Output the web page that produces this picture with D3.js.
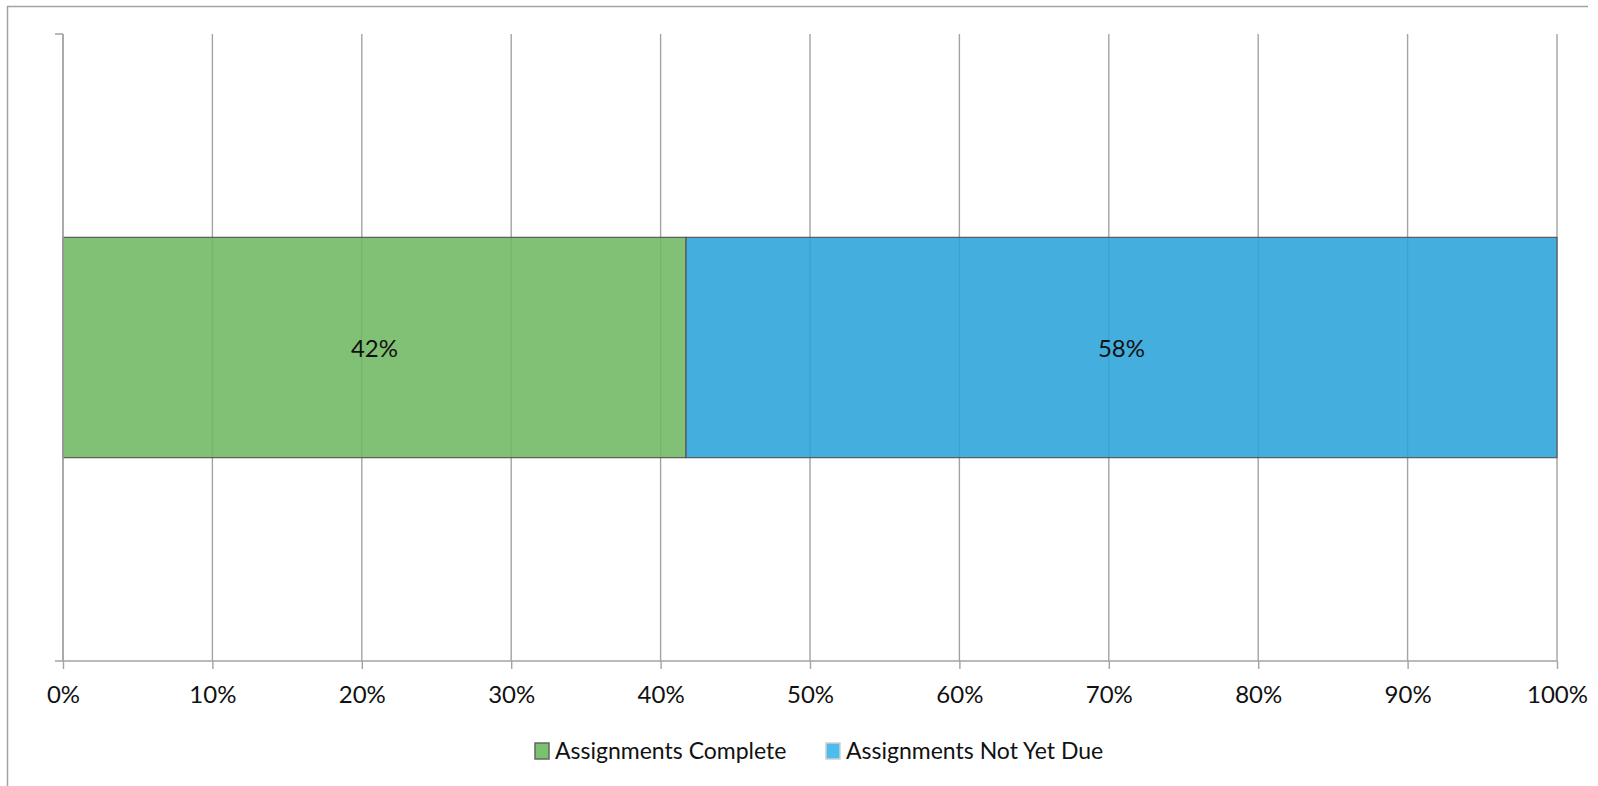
<!DOCTYPE html>
<html>
<head>
<meta charset="utf-8">
<script src="https://cdn.jsdelivr.net/npm/d3@7"></script>
<style>
  body { margin: 0; background: #fff; }
  svg text { font-family: Lato, "Open Sans", sans-serif; fill: #111; }
</style>
</head>
<body>
<div id="chart"></div>
<script>
// data
const categories = ["Assignments"];
const seriesNames = ["Assignments Complete", "Assignments Not Yet Due"];
const seriesValues = [41.7, 58.3];
const valueLabels = ["42%", "58%"];
const seriesColors = ["#6fb863", "#2aa4d9"];
const legendColors = ["#79c36f", "#4cbdec"];
const xTicks = [0, 10, 20, 30, 40, 50, 60, 70, 80, 90, 100];

const W = 1598, H = 786;
const plotLeft = 63, plotRight = 1557, plotTop = 34, plotBottom = 661;
const gridColor = "#a3a3a3";
const fontSize = 24;

const svg = d3.select("#chart")
  .append("svg")
  .attr("width", W)
  .attr("height", H);

// outer frame (only top + left edges visible)
svg.append("line")
  .attr("x1", 7).attr("x2", 1588).attr("y1", 6.5).attr("y2", 6.5)
  .attr("stroke", gridColor).attr("stroke-width", 1.5);
svg.append("line")
  .attr("x1", 7.5).attr("x2", 7.5).attr("y1", 6).attr("y2", H)
  .attr("stroke", gridColor).attr("stroke-width", 1.5);

const x = d3.scaleLinear().domain([0, 100]).range([plotLeft, plotRight]);
const y = d3.scaleBand().domain(categories).range([plotTop, plotBottom])
  .paddingInner(0.48).paddingOuter(0.48);

// vertical gridlines
svg.append("g")
  .selectAll("line")
  .data(xTicks)
  .enter()
  .append("line")
  .attr("x1", d => x(d)).attr("x2", d => x(d))
  .attr("y1", plotTop).attr("y2", plotBottom)
  .attr("stroke", gridColor)
  .attr("stroke-width", 1.4);

// stacked bars
let acc = 0;
const segs = seriesValues.map((v, i) => {
  const s = { start: acc, end: acc + v, label: valueLabels[i], color: seriesColors[i] };
  acc += v;
  return s;
});

const barG = svg.append("g");
categories.forEach(cat => {
  barG.selectAll("rect")
    .data(segs)
    .enter()
    .append("rect")
    .attr("x", d => x(d.start))
    .attr("y", y(cat))
    .attr("width", d => x(d.end) - x(d.start))
    .attr("height", y.bandwidth())
    .attr("fill", d => d.color)
    .attr("fill-opacity", 0.88)
    .attr("stroke", "#5a5a5a")
    .attr("stroke-width", 1.2);

  barG.selectAll("text")
    .data(segs)
    .enter()
    .append("text")
    .attr("x", d => (x(d.start) + x(d.end)) / 2)
    .attr("y", y(cat) + y.bandwidth() / 2 + 9)
    .attr("text-anchor", "middle")
    .attr("font-size", fontSize)
    .text(d => d.label);
});

// y axis line with end ticks
svg.append("line")
  .attr("x1", plotLeft).attr("x2", plotLeft).attr("y1", plotTop).attr("y2", plotBottom)
  .attr("stroke", gridColor).attr("stroke-width", 1.5);
svg.append("line")
  .attr("x1", plotLeft - 8).attr("x2", plotLeft).attr("y1", plotTop).attr("y2", plotTop)
  .attr("stroke", gridColor).attr("stroke-width", 1.5);

// x axis
const xAxis = svg.append("g")
  .attr("transform", `translate(0,${plotBottom})`)
  .call(d3.axisBottom(x).tickValues(xTicks).tickSize(8)
    .tickFormat(d => d + "%"));
xAxis.select(".domain").remove();
xAxis.selectAll(".tick line").attr("stroke", gridColor).attr("stroke-width", 1.4);
xAxis.selectAll(".tick text")
  .attr("y", 42)
  .attr("dy", null)
  .attr("font-size", fontSize)
  .attr("font-family", "Lato, 'Open Sans', sans-serif")
  .attr("fill", "#111");
svg.append("line")
  .attr("x1", plotLeft - 8).attr("x2", plotRight).attr("y1", plotBottom).attr("y2", plotBottom)
  .attr("stroke", gridColor).attr("stroke-width", 1.5);

// legend
const legendX = [534, 825];
const legend = svg.append("g");
seriesNames.forEach((name, i) => {
  const g = legend.append("g").attr("transform", `translate(${legendX[i]},742)`);
  g.append("rect")
    .attr("x", 1).attr("y", 1)
    .attr("width", 14).attr("height", 16)
    .attr("fill", legendColors[i])
    .attr("stroke", i === 0 ? "#666" : "#d0d0d0")
    .attr("stroke-width", 1.5);
  g.append("text")
    .attr("x", 21)
    .attr("y", 17)
    .attr("font-size", 23)
    .text(name);
});
</script>
</body>
</html>
